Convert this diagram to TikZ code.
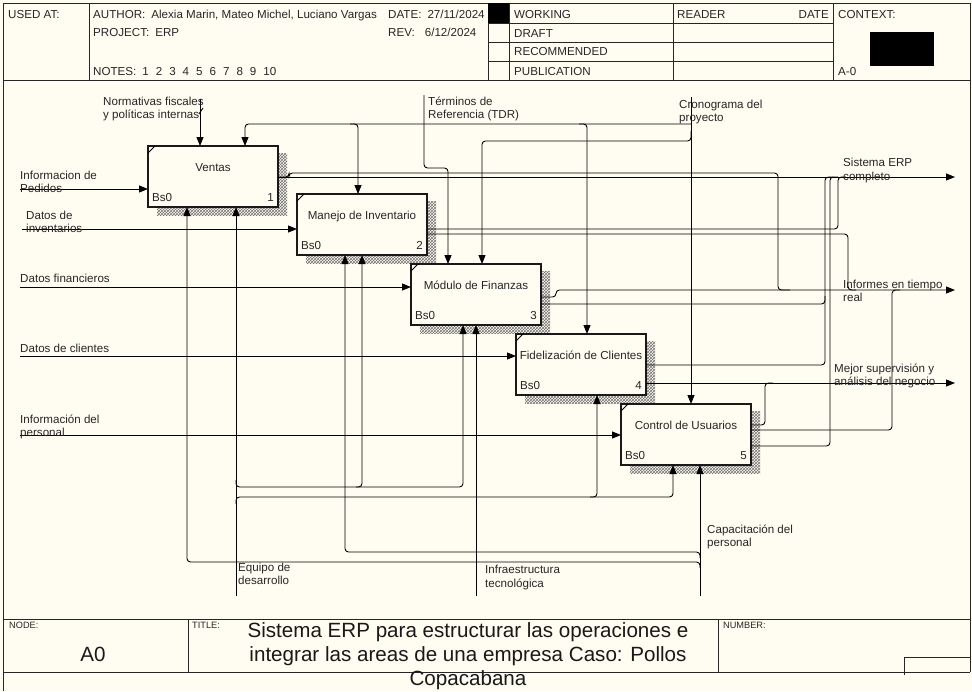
\documentclass[tikz,border=0pt]{standalone}
\usepackage{fontspec}
\setmainfont{Liberation Sans}
\usetikzlibrary{arrows.meta,patterns,calc}
\definecolor{bgc}{RGB}{255,252,242}
\tikzset{
  conn/.style={line width=0.9pt, draw=black, rounded corners=3.5pt},
  arr/.style={conn, -{Triangle[length=9pt,width=7pt]}},
  frameline/.style={line width=1pt, draw=black!85},
  idefbox/.style={draw=black!90, line width=1.1pt, fill=bgc, minimum width=130pt, minimum height=61pt, inner sep=0pt, outer sep=0pt},
  shadowpat/.style={pattern=crosshatch, pattern color=black!55},
  lbl/.style={font=\fontsize{11.6}{13}\selectfont, inner sep=0pt, anchor=base west, text=black!85},
  hdr/.style={font=\fontsize{11.6}{13}\selectfont, inner sep=0pt, anchor=base west, text=black!85},
  smalllbl/.style={font=\fontsize{9.2}{10}\selectfont, inner sep=0pt, anchor=base west, text=black!85},
  ttl/.style={font=\fontsize{20.6}{24}\selectfont, inner sep=0pt, anchor=base, text=black!90},
}
\newcommand{\mkbox}[5]{%
  \fill[shadowpat] (#2-56,#3-23.5) rectangle (#2+74,#3+38.5);
  \node[idefbox] (#1) at (#2,#3) {};
  \draw[line width=0.8pt] ($(#1.north west)+(0,7)$) -- ($(#1.north west)+(7,0)$);
  \node[lbl, anchor=base] (#1t) at ($(#1.north)+(0,25)$) {#4};
  \node[lbl, anchor=base west] (#1b) at ($(#1.south west)+(4,-6)$) {Bs0};
  \node[lbl, anchor=base east] (#1n) at ($(#1.south east)+(-4,-6)$) {#5};
}
\begin{document}
\begin{tikzpicture}[x=1pt,y=-1pt]
\fill[bgc] (0,0) rectangle (972,691);
\useasboundingbox (0,0) rectangle (972,691);
% frame and header
\draw[frameline] (3,691) -- (3,3) -- (970,3) -- (970,672);
\draw[frameline] (3,80) -- (970,80);
\draw[frameline] (89,3) -- (89,80);
\draw[frameline] (488,3) -- (488,80);
\draw[frameline] (509,3) -- (509,80);
\draw[frameline] (673,3) -- (673,80);
\draw[frameline] (833,3) -- (833,80);
\draw[frameline] (488,23) -- (833,23);
\draw[frameline] (488,42) -- (833,42);
\draw[frameline] (488,61) -- (833,61);
\fill[black] (488,3) rectangle (509,23);
\fill[black] (870,32) rectangle (934,66);
% footer
\draw[frameline] (3,619) -- (970,619);
\draw[frameline] (3,672) -- (970,672);
\draw[frameline] (188,619) -- (188,672);
\draw[frameline] (718,619) -- (718,672);
\draw[frameline] (904,675) -- (904,657) -- (970,657);
% header texts
\node[hdr] (h1) at (8,18) {USED AT:};
\node[hdr] (h2) at (93,18) {AUTHOR:\hspace{6pt}Alexia Marin, Mateo Michel, Luciano Vargas};
\node[hdr] (h3) at (388,18) {DATE:\hspace{6pt}27/11/2024};
\node[hdr] (h4) at (93,36) {PROJECT:\hspace{6pt}ERP};
\node[hdr] (h5) at (388,36) {REV:\hspace{10pt}6/12/2024};
\node[hdr] (h6) at (93,75) {NOTES:\hspace{6pt}1\hspace{7pt}2\hspace{7pt}3\hspace{7pt}4\hspace{7pt}5\hspace{7pt}6\hspace{7pt}7\hspace{7pt}8\hspace{7pt}9\hspace{7pt}10};
\node[hdr] (h7) at (514,18) {WORKING};
\node[hdr] (h8) at (514,37) {DRAFT};
\node[hdr] (h9) at (514,55) {RECOMMENDED};
\node[hdr] (h10) at (514,75) {PUBLICATION};
\node[hdr] (h11) at (677,18) {READER};
\node[hdr, anchor=base east] (h12) at (829,18) {DATE};
\node[hdr] (h13) at (838,18) {CONTEXT:};
\node[hdr] (h14) at (838,75) {A-0};
% footer texts
\node[smalllbl] (f1) at (9,628) {NODE:};
\node[smalllbl] (f2) at (192,628) {TITLE:};
\node[smalllbl] (f3) at (723,628) {NUMBER:};
\node[ttl] (f4) at (93,661) {A0};
\node[ttl] (t1) at (468,637) {Sistema ERP para estructurar las operaciones e};
\node[ttl] (t2) at (468,661) {integrar las areas de una empresa Caso: Pollos};
\node[ttl] (t3) at (468,685) {Copacabana};
% boxes
\mkbox{b1}{213}{176.5}{Ventas}{1}
\mkbox{b2}{362}{224.5}{Manejo de Inventario}{2}
\mkbox{b3}{476}{294.5}{Módulo de Finanzas}{3}
\mkbox{b4}{581}{364.5}{Fidelización de Clientes}{4}
\mkbox{b5}{686}{434.5}{Control de Usuarios}{5}
% free ends
\coordinate (in1) at (20,189);
\coordinate (in2) at (22,229);
\coordinate (in3) at (20,287);
\coordinate (in4) at (20,356);
\coordinate (in5) at (20,435);
\coordinate (c1) at (200,99);
\coordinate (c2) at (424,95);
\coordinate (c3) at (691,97);
\coordinate (o1) at (955,177);
\coordinate (o2) at (955,290);
\coordinate (o3) at (955,383);
\coordinate (m1) at (236,596);
\coordinate (m2) at (476,596);
\coordinate (m3) at (700,596);
% inputs
\draw[arr] (in1) -- (b1.west |- in1);
\draw[arr] (in2) -- (b2.west |- in2);
\draw[arr] (in3) -- (b3.west |- in3);
\draw[arr] (in4) -- (b4.west |- in4);
\draw[arr] (in5) -- (b5.west |- in5);
% controls
\draw[arr] (c1) -- (b1.north -| c1);
\draw[conn] (199,114) -- (203,108);
\draw[arr] (c2) |- (448,168) -- (b3.north -| 448,0);
\draw[arr] (c3) -- (b5.north -| c3);
\draw[arr] (c3 |- 0,124) -- (245,124) -- (b1.north -| 245,0);
\draw[arr] (350,124) -| (b2.north -| 358,0);
\draw[arr] (579,124) -| (b4.north -| 587,0);
\draw[arr] (c3 |- 0,131) |- (482,141) -- (b3.north -| 482,0);
% outputs
\draw[arr] (b1.east |- o1) -- (o1);
\draw[conn] (b1.east |- o1) -| (289,173) -- (778,173) -- (778,290) -- (790,290);
\draw[conn] (b2.east |- 0,229) -| (838,177) -- (846,177);
\draw[conn] (b2.east |- 0,234) -| (848,290) -- (856,290);
\draw[arr] (b3.east |- 0,297) -| (556,290) -- (o2);
\draw[conn] (b3.east |- 0,304) -| (825,296);
\draw[conn] (b4.east |- 0,365) -| (825,177) -- (833,177);
\draw[arr] (b4.east |- o3) -- (o3);
\draw[conn] (b5.east |- 0,425) -| (765,383) -- (773,383);
\draw[conn] (b5.east |- 0,430) -| (892,290) -- (900,290);
\draw[conn] (b5.east |- 0,446) -| (830,177) -- (838,177);
% mechanisms
\draw[arr] (m1) -- (b1.south -| m1);
\draw[arr] (236,480) |- (463,487) -- (b3.south -| 463,0);
\draw[arr] (356,487) -| (b2.south -| 362,0);
\draw[arr] (236,504) |- (673,497) -- (b5.south -| 673,0);
\draw[arr] (590,497) -| (b4.south -| 597,0);
\draw[arr] (m2) -- (b3.south -| m2);
\draw[arr] (m3) -- (b5.south -| m3);
\draw[arr] (700,558) |- (345,552) -- (b2.south -| 345,0);
\draw[arr] (700,568) |- (187,562) -- (b1.south -| 187,0);
% labels
\node[lbl] (l1) at (103,105) {Normativas fiscales};
\node[lbl] (l2) at (103,118) {y políticas internas};
\node[lbl] (l3) at (428,105) {Términos de};
\node[lbl] (l4) at (428,118) {Referencia (TDR)};
\node[lbl] (l5) at (679,108) {Cronograma del};
\node[lbl] (l6) at (679,121) {proyecto};
\node[lbl] (l7) at (843,166) {Sistema ERP};
\node[lbl] (l8) at (843,180) {completo};
\node[lbl] (l9) at (843,288) {Informes en tiempo};
\node[lbl] (l10) at (843,301) {real};
\node[lbl] (l11) at (834,372) {Mejor supervisión y};
\node[lbl] (l12) at (834,385) {análisis del negocio};
\node[lbl] (l13) at (20,179) {Informacion de};
\node[lbl] (l14) at (20,192) {Pedidos};
\node[lbl] (l15) at (26,219) {Datos de};
\node[lbl] (l16) at (26,232) {inventarios};
\node[lbl] (l17) at (20,282) {Datos financieros};
\node[lbl] (l18) at (20,352) {Datos de clientes};
\node[lbl] (l19) at (20,423) {Información del};
\node[lbl] (l20) at (20,436) {personal};
\node[lbl] (l21) at (238,571) {Equipo de};
\node[lbl] (l22) at (238,584) {desarrollo};
\node[lbl] (l23) at (485,573) {Infraestructura};
\node[lbl] (l24) at (485,587) {tecnológica};
\node[lbl] (l25) at (707,533) {Capacitación del};
\node[lbl] (l26) at (707,546) {personal};
\end{tikzpicture}
\end{document}
